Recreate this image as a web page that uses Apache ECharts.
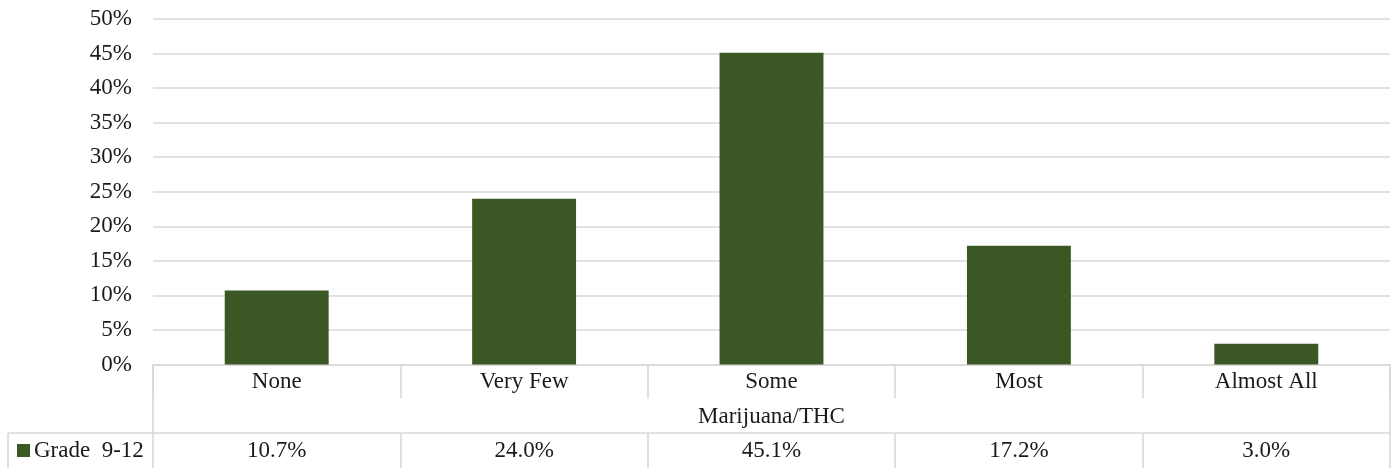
<!DOCTYPE html>
<html>
<head>
<meta charset="utf-8">
<script src="https://cdn.jsdelivr.net/npm/echarts@6/dist/echarts.min.js"></script>
<style>
  html, body { margin: 0; padding: 0; background: #fff; }
  #chart { width: 1400px; height: 468px; }
</style>
</head>
<body>
<div id="chart"></div>
<script>
// Share of respondents by answer, Marijuana/THC question
const categories = ['None', 'Very Few', 'Some', 'Most', 'Almost All'];
const gradeValues = [10.7, 24.0, 45.1, 17.2, 3.0];
const seriesName = 'Grade  9-12';
const groupTitle = 'Marijuana/THC';

const FONT = '"Liberation Serif", "DejaVu Serif", serif';
const FS = 23;
const TEXT = '#1a1a1a';
const RULE = '#d9d9d9';
const BAR = '#3A5724';

const W = 1400, H = 468;
const grid = { left: 153, right: 10, top: 19, bottom: 103.5 };
const axisY = H - grid.bottom;          // baseline of the plot / top of the data table
const rowGap = 68.5;                     // distance from baseline to the value row
const valueRowY = axisY + rowGap;
const tableLeft = 8;
const plotRight = W - grid.right;

const chart = echarts.init(document.getElementById('chart'), null, { renderer: 'canvas' });

const lineStyle = { stroke: RULE, lineWidth: 1.6 };
function rule(x1, y1, x2, y2) {
  return { type: 'line', shape: { x1, y1, x2, y2 }, style: lineStyle, silent: true, z: 5 };
}

chart.setOption({
  animation: false,
  backgroundColor: '#ffffff',
  textStyle: { fontFamily: FONT, color: TEXT },
  grid: grid,
  legend: {
    data: [seriesName],
    left: 17,
    top: valueRowY + 17.5 - 11.5,
    padding: 0,
    icon: 'rect',
    itemWidth: 13,
    itemHeight: 13,
    itemGap: 5,
    textStyle: { fontFamily: FONT, fontSize: FS, color: TEXT, padding: [0, 0, 0, -1] }
  },
  xAxis: [
    {
      type: 'category',
      data: categories,
      position: 'bottom',
      axisLine: { show: true, lineStyle: { color: RULE, width: 1.6 } },
      axisTick: { show: true, length: 34, lineStyle: { color: RULE, width: 1.6 } },
      axisLabel: { fontFamily: FONT, fontSize: FS, color: TEXT, margin: 17, verticalAlign: 'middle', interval: 0 },
      name: groupTitle,
      nameLocation: 'middle',
      nameGap: 52.5,
      nameTextStyle: { fontFamily: FONT, fontSize: FS, color: TEXT, verticalAlign: 'middle' },
      splitLine: { show: false }
    },
    {
      type: 'category',
      data: categories,
      position: 'bottom',
      offset: rowGap,
      axisLine: { show: true, lineStyle: { color: RULE, width: 1.6 } },
      axisTick: { show: true, length: 36, lineStyle: { color: RULE, width: 1.6 } },
      axisLabel: {
        fontFamily: FONT, fontSize: FS, color: TEXT, margin: 18, verticalAlign: 'middle', interval: 0,
        formatter: (v, i) => gradeValues[i].toFixed(1) + '%'
      },
      splitLine: { show: false }
    }
  ],
  yAxis: {
    type: 'value',
    min: 0,
    max: 50,
    interval: 5,
    axisLine: { show: false },
    axisTick: { show: false },
    axisLabel: { fontFamily: FONT, fontSize: FS, color: TEXT, margin: 21, formatter: '{value}%' },
    splitLine: { show: true, lineStyle: { color: RULE, width: 1.6 } }
  },
  series: [
    {
      name: seriesName,
      type: 'bar',
      xAxisIndex: 0,
      data: gradeValues,
      barWidth: '42%',
      itemStyle: { color: BAR }
    }
  ],
  color: [BAR],
  graphic: [
    rule(grid.left, axisY, grid.left, valueRowY),
    rule(plotRight, axisY, plotRight, valueRowY),
    rule(tableLeft, valueRowY, grid.left, valueRowY),
    rule(tableLeft, valueRowY, tableLeft, H)
  ]
});
</script>
</body>
</html>
